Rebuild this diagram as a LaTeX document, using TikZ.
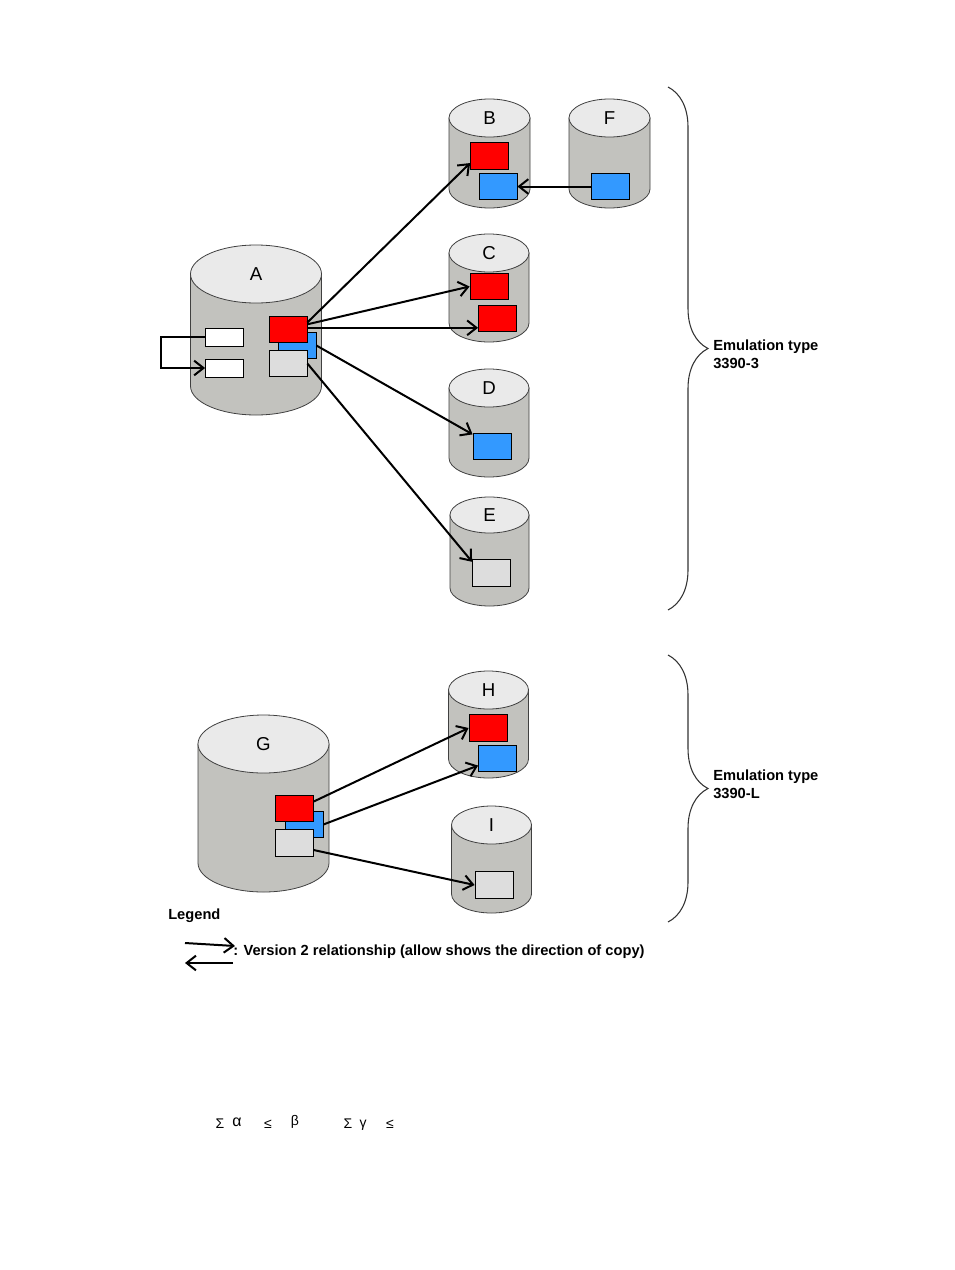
\documentclass[tikz,border=0pt]{standalone}
\usepackage{fontspec}
\setmainfont{Liberation Sans}
\usetikzlibrary{arrows.meta, decorations.pathreplacing}

\definecolor{drumgray}{RGB}{194,194,190}
\definecolor{drumlid}{RGB}{234,234,234}
\definecolor{volred}{RGB}{255,0,0}
\definecolor{volblue}{RGB}{51,153,255}
\definecolor{volgray}{RGB}{221,221,221}

% cx, top y, bottom y, x radius, y radius, name
\newcommand{\drum}[6]{%
  \filldraw[drumside] (#1-#4,#2) -- (#1-#4,#3)
    arc[start angle=180, end angle=0, x radius=#4, y radius=#5] -- (#1+#4,#2) -- cycle;
  \filldraw[drumtop] (#1,#2) ellipse[x radius=#4, y radius=#5];
  \node[drumlabel] (#6) at (#1,#2) {#6};}

\begin{document}
\begin{tikzpicture}[x=0.75pt, y=-0.75pt, >={Straight Barb[length=7pt,width=11pt]},
  drumside/.style={fill=drumgray, draw=black!75, line width=0.6pt},
  drumtop/.style={fill=drumlid, draw=black!75, line width=0.6pt},
  drumlabel/.style={font=\fontsize{14}{16}\selectfont, inner sep=0pt},
  volbox/.style={draw, line width=0.6pt, inner sep=0pt, minimum width=28.5pt, minimum height=20pt},
  cparrow/.style={->, line width=1.5pt},
  emutext/.style={font=\fontsize{11}{13.5}\selectfont\bfseries, align=left, inner sep=0pt},
  sigtext/.style={font=\fontsize{10.5}{12}\selectfont, inner sep=0pt}]
  \fill[white] (0,0) rectangle (954,1270);
  \useasboundingbox (0,0) rectangle (954,1270);

  % 3390-3 volumes
  \drum{256}{274}{386}{65.5}{29}{A}
  \drum{489.5}{118}{189}{40.5}{19}{B}
  \drum{609.5}{118}{189}{40.5}{19}{F}
  \drum{489}{253}{323}{40}{19}{C}
  \drum{489}{388}{458}{40}{19}{D}
  \drum{489.5}{515}{588}{39.5}{18}{E}

  % 3390-L volumes
  \drum{263.5}{744}{863}{65.5}{29}{G}
  \drum{488.5}{690}{759}{40}{19}{H}
  \drum{491.5}{825}{894}{40}{19}{I}

  % pairs
  \node[volbox, fill=white, minimum height=13.5pt] (aw1) at (224.5,337) {};
  \node[volbox, fill=white, minimum height=13.5pt] (aw2) at (224.5,368) {};
  \node[volbox, fill=volblue] (ab) at (297,345.5) {};
  \node[volbox, fill=volred] (ar) at (288,329.5) {};
  \node[volbox, fill=volgray] (ag) at (288,363.5) {};
  \node[volbox, fill=volred] (br) at (489.5,156) {};
  \node[volbox, fill=volblue] (bb) at (498,186.5) {};
  \node[volbox, fill=volblue] (fb) at (610.5,186.5) {};
  \node[volbox, fill=volred] (cr1) at (489,286.5) {};
  \node[volbox, fill=volred] (cr2) at (497.5,318.5) {};
  \node[volbox, fill=volblue] (db) at (492,446.5) {};
  \node[volbox, fill=volgray] (eg) at (491.5,573) {};
  \node[volbox, fill=volblue] (gb) at (304,824.5) {};
  \node[volbox, fill=volred] (gr) at (294.5,808.5) {};
  \node[volbox, fill=volgray] (gg) at (294.5,843) {};
  \node[volbox, fill=volred] (hr) at (488,728) {};
  \node[volbox, fill=volblue] (hb) at (497.5,758.5) {};
  \node[volbox, fill=volgray] (ig) at (494,885) {};

  % copy directions
  \draw[cparrow] (aw1.west) -- ++(-44,0) |- (aw2.west);
  \draw[cparrow] (ar.20) -- (br.200);
  \draw[cparrow] (ar.15) -- (cr1.west);
  \draw[cparrow] (ar.5) -- (ar.5 -| cr2.west);
  \draw[cparrow] (ab.east) -- (db.148);
  \draw[cparrow] (ag.east) -- (eg.150);
  \draw[cparrow] (fb.west) -- (bb.east);
  \draw[cparrow] (gr.20) -- (hr.west);
  \draw[cparrow] (gb.east) -- (hb.200);
  \draw[cparrow] (gg.-20) -- (ig.west);

  % emulation types
  \draw[decorate, decoration={brace, amplitude=30pt}, line width=0.8pt, draw=black!80] (668,87) -- (668,610);
  \node[emutext, anchor=west] (emu3) at (713,354) {Emulation type\\3390-3};
  \draw[decorate, decoration={brace, amplitude=30pt}, line width=0.8pt, draw=black!80] (668,655) -- (668,922);
  \node[emutext, anchor=west] (emuL) at (713,784) {Emulation type\\3390-L};

  % legend
  \node[emutext, anchor=west] (legend) at (168,916) {Legend};
  \coordinate (lg1) at (185,943);
  \coordinate (lg2) at (235,946);
  \coordinate (lg3) at (233,963);
  \coordinate (lg4) at (185,963);
  \draw[cparrow] (lg1) -- (lg2);
  \draw[cparrow] (lg3) -- (lg4);
  \node[emutext, anchor=west] (reltext) at (233,952) {: Version 2 relationship (allow shows the direction of copy)};

  % stray formula
  \node[sigtext] (sg1) at (220,1124) {Σ};
  \node[sigtext, font=\fontsize{12}{14}\selectfont] (al) at (237,1122) {α};
  \node[sigtext] (le1) at (268,1124) {≤};
  \node[sigtext] (bt) at (295,1122) {β};
  \node[sigtext] (sg2) at (348,1124) {Σ};
  \node[sigtext] (gm) at (363,1125) {γ};
  \node[sigtext] (le2) at (390,1124) {≤};
\end{tikzpicture}
\end{document}
